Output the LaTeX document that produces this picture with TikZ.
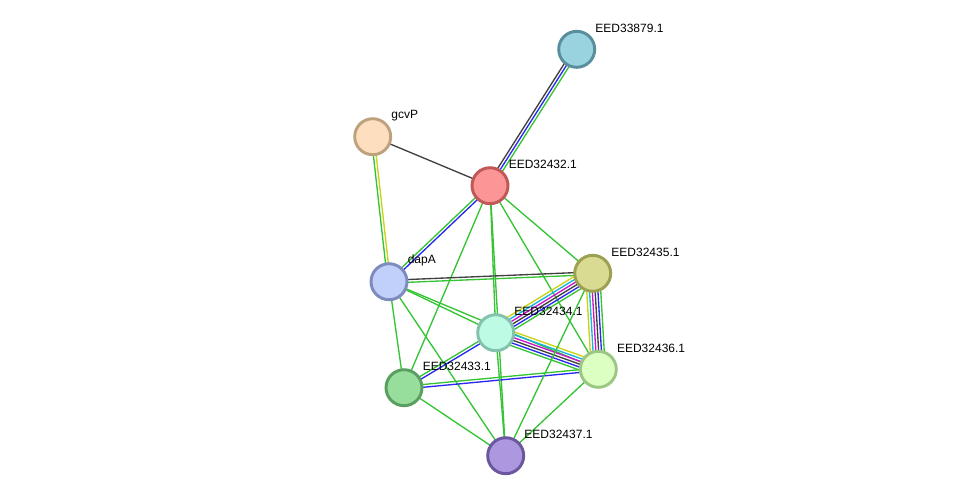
\documentclass[tikz,border=0pt]{standalone}
\usepackage{fontspec}
\setmainfont{Liberation Sans}
\usepackage{tikz}
\definecolor{cgreen}{RGB}{52,196,52}
\definecolor{cblue}{RGB}{40,40,240}
\definecolor{cblack}{RGB}{64,64,64}
\definecolor{cyellow}{RGB}{200,212,20}
\definecolor{ccyan}{RGB}{20,180,220}
\definecolor{cmagenta}{RGB}{204,20,204}
\usetikzlibrary{calc}
\usetikzlibrary{backgrounds}

% one STRING link = n parallel coloured lines
\newcommand{\strlink}[4]{%
  \foreach \col [count=\i] in {#4}{
    \pgfmathsetmacro{\off}{((#3+1)/2-\i)*2.1}
    \draw[\col, line width=1pt] ($(#1)!\off pt!90:(#2)$) -- ($(#2)!\off pt!-90:(#1)$);
  }}

\begin{document}
\begin{tikzpicture}[x=0.75pt,y=-0.75pt]
    \tikzset{protein/.style={circle, line width=2.2pt, minimum size=27pt, inner sep=0pt},
             plabel/.style={anchor=west, inner sep=0pt, font=\fontsize{9pt}{11pt}\selectfont}}

    \useasboundingbox (0,0) rectangle (975,501);

    \node[protein, fill={rgb,255:red,153;green,211;blue,224}, draw={rgb,255:red,90;green,142;blue,156}] (n33879) at (576.7,49.3) {};
    \node[protein, fill={rgb,255:red,253;green,223;blue,192}, draw={rgb,255:red,190;green,162;blue,126}] (gcvP) at (372.7,136.7) {};
    \node[protein, fill={rgb,255:red,252;green,149;blue,149}, draw={rgb,255:red,192;green,88;blue,88}] (n32432) at (490,185.7) {};
    \node[protein, fill={rgb,255:red,192;green,208;blue,250}, draw={rgb,255:red,126;green,139;blue,190}] (dapA) at (389,281.7) {};
    \node[protein, fill={rgb,255:red,216;green,219;blue,145}, draw={rgb,255:red,156;green,160;blue,80}] (n32435) at (592.7,273.3) {};
    \node[protein, fill={rgb,255:red,190;green,251;blue,228}, draw={rgb,255:red,132;green,194;blue,174}] (n32434) at (495.7,332.7) {};
    \node[protein, fill={rgb,255:red,220;green,255;blue,194}, draw={rgb,255:red,156;green,198;blue,132}] (n32436) at (598.3,369.3) {};
    \node[protein, fill={rgb,255:red,151;green,221;blue,156}, draw={rgb,255:red,90;green,158;blue,96}] (n32433) at (404,387.7) {};
    \node[protein, fill={rgb,255:red,171;green,152;blue,222}, draw={rgb,255:red,108;green,86;blue,160}] (n32437) at (505.7,455.7) {};

    \node[plabel] (l33879) at ($(n33879)+(18.5,-21)$) {EED33879.1};
    \node[plabel] (lgcvP) at ($(gcvP)+(18.5,-21)$) {gcvP};
    \node[plabel] (l32432) at ($(n32432)+(18.5,-21)$) {EED32432.1};
    \node[plabel] (ldapA) at ($(dapA)+(18.5,-21)$) {dapA};
    \node[plabel] (l32435) at ($(n32435)+(18.5,-21)$) {EED32435.1};
    \node[plabel] (l32434) at ($(n32434)+(18.5,-21)$) {EED32434.1};
    \node[plabel] (l32436) at ($(n32436)+(18.5,-21)$) {EED32436.1};
    \node[plabel] (l32433) at ($(n32433)+(18.5,-21)$) {EED32433.1};
    \node[plabel] (l32437) at ($(n32437)+(18.5,-21)$) {EED32437.1};

    \begin{scope}[on background layer]
        \fill[white] (0,0) rectangle (975,501);
        \strlink{n32432}{n33879}{3}{cblack,cblue,cgreen}
        \strlink{gcvP}{n32432}{1}{cblack}
        \strlink{dapA}{gcvP}{2}{cgreen,cyellow}
        \strlink{dapA}{n32432}{2}{cgreen,cblue}
        \strlink{n32432}{n32434}{1}{cgreen}
        \strlink{n32432}{n32437}{1}{cgreen}
        \strlink{n32432}{n32433}{1}{cgreen}
        \strlink{n32432}{n32435}{1}{cgreen}
        \strlink{n32432}{n32436}{1}{cgreen}
        \strlink{dapA}{n32435}{2}{cblack,cgreen}
        \strlink{dapA}{n32434}{1}{cgreen}
        \strlink{dapA}{n32436}{1}{cgreen}
        \strlink{dapA}{n32433}{1}{cgreen}
        \strlink{dapA}{n32437}{1}{cgreen}
        \strlink{n32433}{n32434}{2}{cgreen,cblue}
        \strlink{n32433}{n32436}{2}{cgreen,cblue}
        \strlink{n32433}{n32437}{1}{cgreen}
        \strlink{n32434}{n32435}{6}{cyellow,ccyan,cmagenta,cblack,cblue,cgreen}
        \strlink{n32434}{n32436}{6}{cyellow,ccyan,cmagenta,cblack,cblue,cgreen}
        \strlink{n32436}{n32435}{6}{cyellow,ccyan,cmagenta,cblack,cblue,cgreen}
        \strlink{n32434}{n32437}{1}{cgreen}
        \strlink{n32435}{n32437}{1}{cgreen}
        \strlink{n32436}{n32437}{1}{cgreen}
    \end{scope}

\end{tikzpicture}
\end{document}
